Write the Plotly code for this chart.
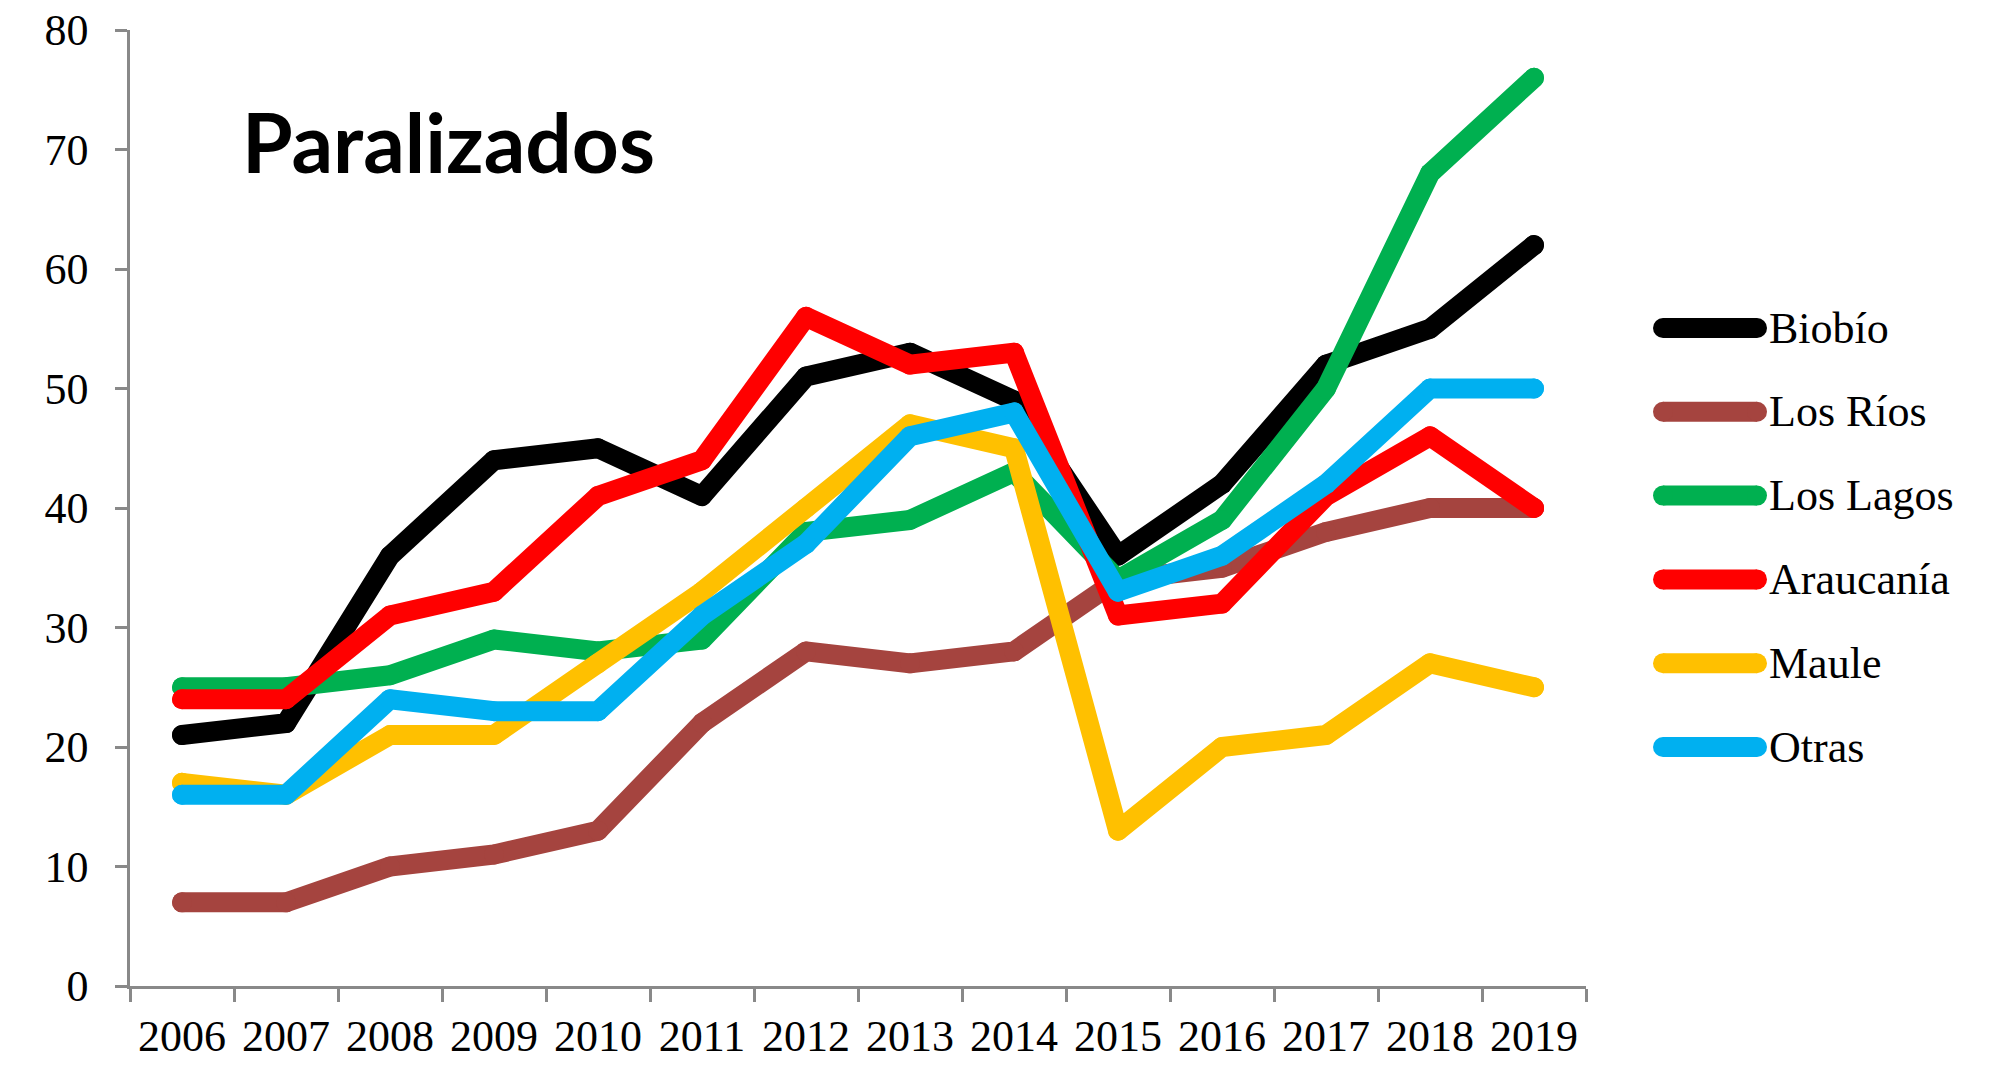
import plotly.graph_objects as go

# ---------------- data ----------------
years = ["2006", "2007", "2008", "2009", "2010", "2011", "2012",
         "2013", "2014", "2015", "2016", "2017", "2018", "2019"]

series_names = ["Biobío", "Los Ríos", "Los Lagos", "Araucanía", "Maule", "Otras"]

biobio    = [21, 22, 36, 44, 45, 41, 51, 53, 49, 36, 42, 52, 55, 62]
los_rios  = [7, 7, 10, 11, 13, 22, 28, 27, 28, 34, 35, 38, 40, 40]
los_lagos = [25, 25, 26, 29, 28, 29, 38, 39, 43, 34, 39, 50, 68, 76]
araucania = [24, 24, 31, 33, 41, 44, 56, 52, 53, 31, 32, 41, 46, 40]
maule     = [17, 16, 21, 21, 27, 33, 40, 47, 45, 13, 20, 21, 27, 25]
otras     = [16, 16, 24, 23, 23, 31, 37, 46, 48, 33, 36, 42, 50, 50]

series_values = [biobio, los_rios, los_lagos, araucania, maule, otras]
colors = ["#000000", "#A5443F", "#00B050", "#FF0000", "#FFC000", "#00B0F0"]

y_ticks = [0, 10, 20, 30, 40, 50, 60, 70, 80]
title_text = "Paralizados"

# ---------------- layout geometry ----------------
W, H = 2014, 1066
L, R, T, B = 130, 428, 30, 80
PW = W - L - R
PH = H - T - B


def px_x(p):
    return (p - L) / PW


def px_y(p):
    return (H - B - p) / PH


AXIS_COLOR = "#898989"
TICK_FONT = dict(family="Liberation Serif", size=44, color="#000000")
LW = 20

fig = go.Figure()

for name, vals, col in zip(series_names, series_values, colors):
    fig.add_trace(go.Scatter(
        x=years, y=vals, name=name, mode="lines+markers",
        line=dict(color=col, width=LW),
        marker=dict(color=col, size=LW, line=dict(width=0)),
        showlegend=False, hoverinfo="x+y+name",
    ))

# ---------------- custom legend (thick rounded samples) ----------------
shapes = []
annotations = []
leg_y0 = 328
leg_step = 83.8
x_a, x_b = 1663, 1757
for i, (name, col) in enumerate(zip(series_names, colors)):
    yy = leg_y0 + i * leg_step
    shapes.append(dict(type="line", xref="paper", yref="paper",
                       x0=px_x(x_a), x1=px_x(x_b), y0=px_y(yy), y1=px_y(yy),
                       line=dict(color=col, width=20)))
    for xc in (x_a, x_b):
        shapes.append(dict(type="circle", xref="paper", yref="paper",
                           x0=px_x(xc - 10), x1=px_x(xc + 10),
                           y0=px_y(yy + 10), y1=px_y(yy - 10),
                           fillcolor=col, line=dict(width=0)))
    annotations.append(dict(text=name, xref="paper", yref="paper",
                            x=px_x(1767), y=px_y(yy), xanchor="left", yanchor="middle",
                            showarrow=False, font=TICK_FONT))

annotations.append(dict(text="<b>" + title_text + "</b>", xref="paper", yref="paper",
                        x=px_x(240), y=px_y(141), xanchor="left", yanchor="middle",
                        showarrow=False,
                        font=dict(family="Lato", size=82, color="#000000")))

fig.update_layout(
    width=W, height=H,
    margin=dict(l=L, r=R, t=T, b=B, pad=0, autoexpand=False),
    paper_bgcolor="white", plot_bgcolor="white",
    shapes=shapes, annotations=annotations,
    showlegend=False,
    xaxis=dict(
        type="category", range=[-0.5, len(years) - 0.5], automargin=False,
        showgrid=False, zeroline=False,
        showline=True, linecolor=AXIS_COLOR, linewidth=2.5,
        ticks="outside", tickson="boundaries", ticklen=13, tickwidth=2.5,
        tickcolor=AXIS_COLOR, tickfont=TICK_FONT, ticklabelstandoff=9,
    ),
    yaxis=dict(
        range=[0, 80], tickvals=y_ticks, automargin=False,
        showgrid=False, zeroline=False,
        showline=True, linecolor=AXIS_COLOR, linewidth=2.5,
        ticks="outside", ticklen=12, tickwidth=2.5, tickcolor=AXIS_COLOR,
        tickfont=TICK_FONT, ticklabelstandoff=18,
    ),
)

post = """
document.body.style.margin = '0';
document.body.style.padding = '0';
document.body.style.overflow = 'hidden';
var gd = document.getElementById('{plot_id}');
gd.querySelectorAll('.scatterlayer .js-line').forEach(function(p){
  p.style.strokeLinejoin = 'round';
  p.style.strokeLinecap = 'round';
});
"""

fig.write_html("out.html", post_script=post, config={"displayModeBar": False})
